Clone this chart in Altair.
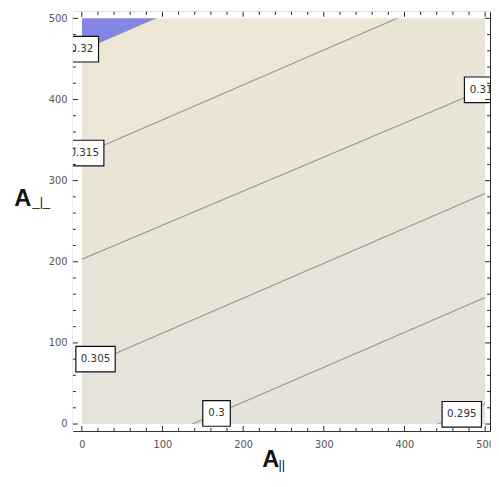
import altair as alt
import pandas as pd

# contour levels and the y-value of each contour line at x=0 and at x=500
levels = [0.295, 0.3, 0.305, 0.31, 0.315, 0.32]
y_at_x0 = [-190, -59, 69, 203, 332, 461]
y_at_x500 = [25, 156, 284, 413, 547, 676]

# fill colours, from the lowest band (below 0.295) to the highest (above 0.32)
band_colors = ["#E3E1DA", "#E4E2DA", "#E6E3D9", "#E8E4D8", "#EAE5D7", "#EDE6D6", "#8585E6"]

# contour labels (data coordinates of label centres)
label_text = ["0.295", "0.3", "0.305", "0.31", "0.315", "0.32"]
label_x = [471, 167, 17, 495, 3, 0]
label_y = [12, 13, 80, 412, 334, 462]
label_w = [40, 28, 40, 34, 40, 34]

major_ticks = [0, 100, 200, 300, 400, 500]
minor_ticks = [v for v in range(0, 501, 20) if v % 100 != 0]

W, H = 424, 426
xs = alt.Scale(domain=[-11, 506], nice=False, zero=False)
ys = alt.Scale(domain=[-8.5, 508], nice=False, zero=False)
FONT = "DejaVu Sans"

AX = dict(values=major_ticks, ticks=False, domain=False, grid=False,
          labelFont=FONT, labelFontSize=10, labelColor="#555", title=None, labelFlush=False)
ax_x = alt.Axis(labelPadding=9, **AX)
ax_y = alt.Axis(labelPadding=6, **AX)


def X(f):
    return alt.X(f, scale=xs, axis=ax_x)


def Y(f):
    return alt.Y(f, scale=ys, axis=ax_y)


# ---- bands
lo0 = [-200] + y_at_x0
hi0 = y_at_x0 + [900]
lo5 = [-200] + y_at_x500
hi5 = y_at_x500 + [900]
rows = []
for i in range(len(band_colors)):
    rows.append(dict(band=i, x=0, lo=lo0[i], hi=hi0[i]))
    rows.append(dict(band=i, x=500, lo=lo5[i], hi=hi5[i]))
bands_df = pd.DataFrame(rows)

bands = alt.Chart(bands_df).mark_area(clip=True, opacity=1, strokeWidth=0).encode(
    x=X("x:Q"), y=Y("lo:Q"), y2="hi:Q",
    color=alt.Color("band:N", scale=alt.Scale(domain=list(range(len(band_colors))), range=band_colors),
                    legend=None),
)

# ---- contour lines
lrows = []
for lv, a, b in zip(levels, y_at_x0, y_at_x500):
    lrows.append(dict(level=lv, x=0, y=a))
    lrows.append(dict(level=lv, x=500, y=b))
lines = alt.Chart(pd.DataFrame(lrows)).mark_line(clip=True, color="#98948A", strokeWidth=1.1).encode(
    x=X("x:Q"), y=Y("y:Q"), detail="level:N",
)

# ---- white masks between the data area and the frame
mask_df = pd.DataFrame({
    "x": [-50, 500, -50, -50],
    "x2": [0, 560, 560, 560],
    "y": [-50, -50, -50, 500],
    "y2": [560, 560, 0, 560],
})
masks = alt.Chart(mask_df).mark_rect(clip=True, color="white").encode(
    x=X("x:Q"), x2="x2:Q", y=Y("y:Q"), y2="y2:Q",
)

# ---- contour labels
lab_df = pd.DataFrame({"t": label_text, "x": label_x, "y": label_y, "w": label_w})
boxes = []
for w in sorted(set(label_w)):
    boxes.append(
        alt.Chart(lab_df[lab_df.w == w]).mark_rect(
            clip=True, fill="white", stroke="#111", strokeWidth=1.2, width=w, height=26
        ).encode(x=X("x:Q"), y=Y("y:Q"))
    )
texts = alt.Chart(lab_df).mark_text(clip=True, font=FONT, fontSize=10.5, color="#333").encode(
    x=X("x:Q"), y=Y("y:Q"), text="t:N"
)

# ---- frame ticks (inward)
maj_df = pd.DataFrame({"v": major_ticks})
min_df = pd.DataFrame({"v": minor_ticks})
ticks = []
for df, L in [(maj_df, 5), (min_df, 3)]:
    ticks.append(alt.Chart(df).mark_rule(color="#222", strokeWidth=1).encode(
        x=X("v:Q"), y=alt.value(H - L), y2=alt.value(H)))
    ticks.append(alt.Chart(df).mark_rule(color="#222", strokeWidth=1).encode(
        x=X("v:Q"), y=alt.value(0), y2=alt.value(L)))
    ticks.append(alt.Chart(df).mark_rule(color="#222", strokeWidth=1).encode(
        y=Y("v:Q"), x=alt.value(0), x2=alt.value(L)))
    ticks.append(alt.Chart(df).mark_rule(color="#222", strokeWidth=1).encode(
        y=Y("v:Q"), x=alt.value(W - L), x2=alt.value(W)))

# ---- axis titles
one = pd.DataFrame({"a": [0]})
ytA = alt.Chart(one).mark_text(font="Liberation Sans", fontWeight="bold", fontSize=24,
                               color="#111", baseline="alphabetic", align="center").encode(
    x=alt.value(-51), y=alt.value(197), text=alt.value("A"))
ytS = alt.Chart(one).mark_text(font="Liberation Sans", fontSize=13, color="#111",
                               baseline="alphabetic", align="left").encode(
    x=alt.value(-41), y=alt.value(197), text=alt.value("_|_"))
xtA = alt.Chart(one).mark_text(font="Liberation Sans", fontWeight="bold", fontSize=24,
                               color="#111", baseline="alphabetic", align="center").encode(
    x=alt.value(201), y=alt.value(463), text=alt.value("A"))
xtS = alt.Chart(one).mark_text(font="Liberation Sans", fontSize=13, color="#111",
                               baseline="alphabetic", align="left").encode(
    x=alt.value(209), y=alt.value(465), text=alt.value("||"))

chart = alt.layer(bands, lines, masks, *boxes, texts, *ticks, ytA, ytS, xtA, xtS).properties(
    width=W, height=H,
    autosize=alt.AutoSizeParams(type="none"),
    padding={"left": 66, "top": 0, "right": 1, "bottom": 50},
    background="white",
).configure_view(stroke="#222", strokeWidth=1)

chart.save("out.html", embed_options={"renderer": "svg", "actions": False})
